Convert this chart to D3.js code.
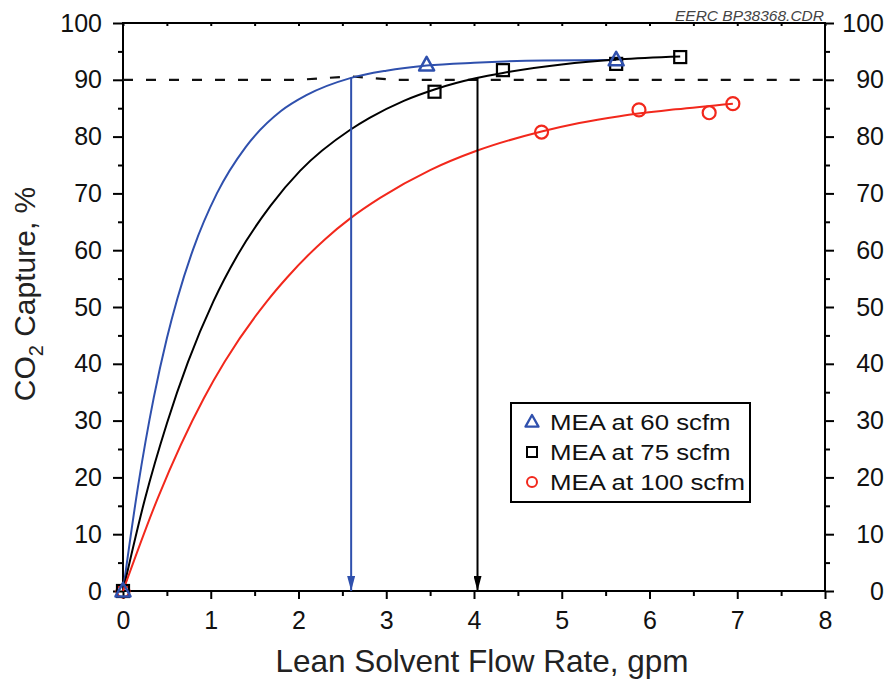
<!DOCTYPE html>
<html>
<head>
<meta charset="utf-8">
<script src="https://cdn.jsdelivr.net/npm/d3@7"></script>
<style>
  body { margin: 0; background: #fff; }
  svg { display: block; font-family: "Liberation Sans", Arial, sans-serif; }
</style>
</head>
<body>
<div id="chart"></div>
<script>
// measured points (gpm, % capture)
const series = ["MEA at 60 scfm", "MEA at 75 scfm", "MEA at 100 scfm"];
const colors = ["#2f50ad", "#000000", "#f2281c"];
const symbols = ["triangle", "square", "circle"];

const pts60x = [0, 3.46, 5.62];
const pts60y = [0, 92.6, 93.5];
const pts75x = [0, 3.55, 4.33, 5.62, 6.35];
const pts75y = [0, 87.9, 91.7, 92.8, 94.0];
const pts100x = [0, 4.77, 5.88, 6.68, 6.95];
const pts100y = [0, 80.8, 84.7, 84.2, 85.8];

// fitted curves
const curve60x = [0, 0.17, 0.35, 0.5, 0.62, 0.8, 1.07, 1.4, 1.8, 2.09, 2.59, 3.0, 3.46, 4.0, 4.8, 5.62];
const curve60y = [0, 18.3, 34, 44.5, 51.5, 60.2, 70, 78.2, 84.5, 87.3, 90.3, 91.6, 92.5, 93.0, 93.4, 93.5];
const curve75x = [0, 0.25, 0.5, 0.74, 1.03, 1.3, 1.68, 2.02, 2.59, 2.81, 3.2, 3.55, 4.03, 4.33, 5.0, 5.66, 6.35];
const curve75y = [0, 16.2, 29.5, 40.3, 51, 59, 67.8, 74.0, 81.2, 83.3, 86.3, 88.3, 90.3, 91.2, 92.7, 93.6, 94.1];
const curve100x = [0, 0.4, 0.92, 1.16, 1.64, 1.87, 2.3, 2.59, 2.93, 3.5, 4.03, 4.77, 5.2, 5.66, 6.3, 6.95];
const curve100y = [0, 16.5, 33.9, 40.4, 51, 55.2, 61.9, 65.6, 69.2, 74.1, 77.5, 80.9, 82.4, 83.6, 84.8, 85.8];

// 90 % target line and read-down arrows
const targetX = [0, 2.0, 2.6, 3.1, 8];
const targetY = [90, 90, 90.6, 90, 90];
const arrowX = [2.6, 4.04];
const arrowTop = [90.4, 90.3];
const arrowColors = ["#2f50ad", "#000000"];

const xTicks = [0, 1, 2, 3, 4, 5, 6, 7, 8];
const xMinor = [0.5, 1.5, 2.5, 3.5, 4.5, 5.5, 6.5, 7.5];
const yTicks = [0, 10, 20, 30, 40, 50, 60, 70, 80, 90, 100];
const yMinor = [5, 15, 25, 35, 45, 55, 65, 75, 85, 95];

const W = 887, H = 681;
const svg = d3.select("#chart").append("svg").attr("width", W).attr("height", H);
svg.append("rect").attr("width", W).attr("height", H).attr("fill", "#fff");

const x = d3.scaleLinear().domain([0, 8]).range([123, 825]);
const y = d3.scaleLinear().domain([0, 100]).range([591, 23]);

const tickFont = 25;

// axes
function styleAxis(g) {
  g.select(".domain").remove();
  g.selectAll(".tick line").attr("stroke", "#000").attr("stroke-width", 2);
  g.selectAll(".tick text").attr("fill", "#111").style("font-size", tickFont + "px")
    .style("font-family", "'Liberation Sans', Arial, sans-serif");
}

svg.append("g").attr("transform", "translate(" + x(0) + ",0)")
  .call(d3.axisLeft(y).tickValues(yTicks).tickSize(10).tickPadding(11)).call(styleAxis);
svg.append("g").attr("transform", "translate(" + x(0) + ",0)")
  .call(d3.axisLeft(y).tickValues(yMinor).tickSize(5).tickFormat("")).call(styleAxis);
const rightAxis = svg.append("g").attr("transform", "translate(" + x(8) + ",0)")
  .call(d3.axisRight(y).tickValues(yTicks).tickSize(9).tickPadding(8)).call(styleAxis);
// right-hand labels are right aligned near the page edge
rightAxis.selectAll(".tick text").attr("text-anchor", "end").attr("x", W - x(8) - 3);
svg.append("g").attr("transform", "translate(" + x(8) + ",0)")
  .call(d3.axisRight(y).tickValues(yMinor).tickSize(5).tickFormat("")).call(styleAxis);
svg.append("g").attr("transform", "translate(0," + y(0) + ")")
  .call(d3.axisBottom(x).tickValues(xTicks).tickSize(8).tickPadding(12)).call(styleAxis);
svg.append("g").attr("transform", "translate(0," + y(0) + ")")
  .call(d3.axisBottom(x).tickValues(xMinor).tickSize(5).tickFormat("")).call(styleAxis);
svg.append("g").attr("transform", "translate(0," + y(100) + ")")
  .call(d3.axisBottom(x).tickValues(xMinor.concat(xTicks)).tickSize(3).tickFormat("")).call(styleAxis);

// frame
svg.append("rect")
  .attr("x", x(0)).attr("y", y(100))
  .attr("width", x(8) - x(0)).attr("height", y(0) - y(100))
  .attr("fill", "none").attr("stroke", "#000").attr("stroke-width", 2);

// target line
const line = d3.line().x(d => x(d[0])).y(d => y(d[1]));
svg.append("path")
  .datum(d3.zip(targetX, targetY))
  .attr("d", line)
  .attr("fill", "none").attr("stroke", "#111").attr("stroke-width", 2.2)
  .attr("stroke-dasharray", "10,13");

// curves
const smooth = d3.line().x(d => x(d[0])).y(d => y(d[1])).curve(d3.curveMonotoneX);
const curves = [d3.zip(curve60x, curve60y), d3.zip(curve75x, curve75y), d3.zip(curve100x, curve100y)];
curves.forEach((c, i) => {
  svg.append("path").datum(c).attr("d", smooth)
    .attr("fill", "none").attr("stroke", colors[i]).attr("stroke-width", 2);
});

// arrows
const defs = svg.append("defs");
arrowColors.forEach((c, i) => {
  defs.append("marker").attr("id", "arrow" + i)
    .attr("viewBox", "0 0 15 8").attr("refX", 15).attr("refY", 4)
    .attr("markerWidth", 15).attr("markerHeight", 8)
    .attr("markerUnits", "userSpaceOnUse").attr("orient", "auto")
    .append("path").attr("d", "M0,0L15,4L0,8Z").attr("fill", c);
});
arrowX.forEach((ax, i) => {
  svg.append("line")
    .attr("x1", x(ax)).attr("x2", x(ax))
    .attr("y1", y(arrowTop[i])).attr("y2", y(0))
    .attr("stroke", arrowColors[i]).attr("stroke-width", 2)
    .attr("marker-end", "url(#arrow" + i + ")");
});

// point markers
function drawSymbol(g, kind, cx, cy, s, color, sw) {
  sw = sw || 2;
  if (kind === "triangle") {
    const h = s * 0.9;
    g.append("path")
      .attr("d", "M" + cx + "," + (cy - h * 0.6) + "L" + (cx + s / 2) + "," + (cy + h * 0.4) +
        "L" + (cx - s / 2) + "," + (cy + h * 0.4) + "Z")
      .attr("fill", "none").attr("stroke", color).attr("stroke-width", sw + 0.3)
      .attr("stroke-linejoin", "round");
  } else if (kind === "square") {
    g.append("rect").attr("x", cx - s / 2).attr("y", cy - s / 2)
      .attr("width", s).attr("height", s)
      .attr("fill", "none").attr("stroke", color).attr("stroke-width", sw);
  } else {
    g.append("circle").attr("cx", cx).attr("cy", cy).attr("r", s / 2)
      .attr("fill", "none").attr("stroke", color).attr("stroke-width", sw);
  }
}

const pts = [d3.zip(pts60x, pts60y), d3.zip(pts75x, pts75y), d3.zip(pts100x, pts100y)];
const markG = svg.append("g");
// draw 100 first, then 75, then 60 on top
[2, 1, 0].forEach(i => {
  pts[i].forEach(p => {
    const size = i === 0 ? 15 : i === 1 ? 12 : 13;
    drawSymbol(markG, symbols[i], x(p[0]), y(p[1]), size, colors[i], 2.2);
  });
});

// legend
const lg = svg.append("g");
lg.append("rect").attr("x", 511).attr("y", 403).attr("width", 239).attr("height", 99)
  .attr("fill", "#fff").attr("stroke", "#000").attr("stroke-width", 2);
series.forEach((s, i) => {
  const cy = 422 + i * 30;
  drawSymbol(lg, symbols[i], 532, cy, i === 0 ? 13 : 10, colors[i], 2);
  lg.append("text")
    .attr("transform", "translate(550," + (cy + 7.5) + ") scale(1.2,1)")
    .style("font-size", "21.5px").attr("fill", "#111").text(s);
});

// axis titles
svg.append("text")
  .attr("x", 482).attr("y", 672)
  .attr("text-anchor", "middle").style("font-size", "31.5px").attr("fill", "#222")
  .text("Lean Solvent Flow Rate, gpm");

const yt = svg.append("text")
  .attr("transform", "translate(35,294) rotate(-90)")
  .attr("text-anchor", "middle").style("font-size", "30px").attr("fill", "#222");
yt.append("tspan").text("CO");
yt.append("tspan").attr("dy", 8).style("font-size", "20px").text("2");
yt.append("tspan").attr("dy", -8).text(" Capture,  %");

// file stamp
svg.append("text")
  .attr("x", 824).attr("y", 21).attr("text-anchor", "end")
  .style("font-size", "15.5px").style("font-style", "italic").attr("fill", "#444")
  .text("EERC BP38368.CDR");
</script>
</body>
</html>
